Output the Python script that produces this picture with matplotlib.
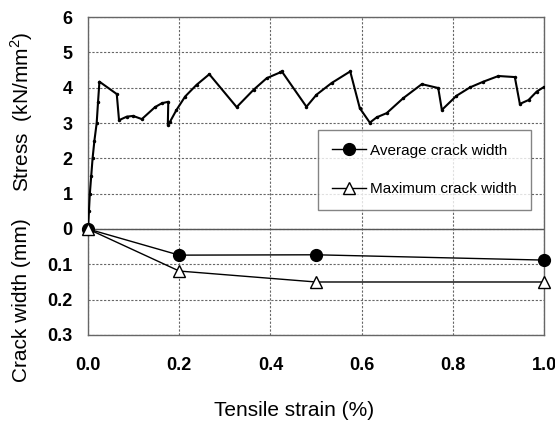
import matplotlib
matplotlib.use("Agg")
import matplotlib.pyplot as plt
import numpy as np

plt.rcParams['font.family'] = ['Liberation Sans', 'DejaVu Sans']
plt.rcParams['mathtext.fontset'] = 'custom'
plt.rcParams['mathtext.rm'] = 'Liberation Sans'

# stress-strain curve (upper part)
strain = [0.0, 0.002, 0.004, 0.007, 0.010, 0.014, 0.019, 0.022, 0.025,
          0.063, 0.068, 0.085, 0.099, 0.118, 0.147, 0.162, 0.176,
          0.175, 0.180, 0.194, 0.213, 0.238, 0.266,
          0.326, 0.363, 0.392, 0.421, 0.425,
          0.479, 0.501, 0.534, 0.575,
          0.596, 0.618, 0.633, 0.655, 0.691, 0.732, 0.768,
          0.776, 0.808, 0.838, 0.867, 0.900, 0.936,
          0.947, 0.966, 0.984, 1.000]
stress = [0.0, 0.5, 1.0, 1.5, 2.0, 2.5, 3.0, 3.6, 4.17,
          3.82, 3.08, 3.18, 3.20, 3.11, 3.45, 3.56, 3.60,
          2.95, 3.04, 3.37, 3.75, 4.08, 4.38,
          3.45, 3.94, 4.27, 4.43, 4.46,
          3.46, 3.80, 4.13, 4.46,
          3.42, 3.01, 3.16, 3.28, 3.70, 4.10, 3.99,
          3.37, 3.77, 4.01, 4.17, 4.33, 4.30,
          3.54, 3.65, 3.89, 4.02]

# crack width (lower part, plotted downward)
crack_strain = [0.0, 0.2, 0.5, 1.0]
avg_width = [0.0, 0.074, 0.073, 0.088]
max_width = [0.0, 0.119, 0.150, 0.150]

yticks = [6, 5, 4, 3, 2, 1, 0, -1, -2, -3]
ytick_labels = ['6', '5', '4', '3', '2', '1', '0', '0.1', '0.2', '0.3']
xticks = [0.0, 0.2, 0.4, 0.6, 0.8, 1.0]

fig = plt.figure(figsize=(5.55, 4.21), dpi=100)
ax = fig.add_axes([0.1586, 0.2043, 0.8216, 0.7553])

ax.plot(strain, stress, color='black', lw=1.5, marker='.', ms=3, zorder=3)
ax.axhline(0, color='#555555', lw=1.0, zorder=2)

scale = 10.0
ax.plot(crack_strain, [-w * scale for w in avg_width], color='black', lw=1.0,
        marker='o', ms=8.5, mfc='black', mec='black', clip_on=False, zorder=4,
        label='Average crack width')
ax.plot(crack_strain, [-w * scale for w in max_width], color='black', lw=1.0,
        marker='^', ms=8.5, mfc='white', mec='black', clip_on=False, zorder=4,
        label='Maximum crack width')

ax.set_xlim(0, 1.0)
ax.set_ylim(-3, 6)
ax.set_xticks(xticks)
ax.set_xticklabels(['%.1f' % v for v in xticks])
ax.set_yticks(yticks)
ax.set_yticklabels(ytick_labels)
ax.tick_params(length=0, labelsize=13)
ax.tick_params(axis='x', pad=16)
ax.tick_params(axis='y', pad=11)
for lbl in ax.get_xticklabels() + ax.get_yticklabels():
    lbl.set_fontweight('bold')

ax.grid(True, color='#666666', lw=0.8, linestyle=(0, (2, 1.5)))
for s in ax.spines.values():
    s.set_color('#666666')
    s.set_linewidth(1.0)

leg = ax.legend(loc='upper left', bbox_to_anchor=(0.505, 0.645), fontsize=11,
                frameon=True, fancybox=False, edgecolor='#666666',
                labelspacing=1.6, handlelength=2.2, borderpad=0.9,
                handletextpad=0.3, borderaxespad=0)
leg.get_frame().set_linewidth(1.0)

fig.text(22 / 555, 1 - 112 / 421, 'Stress  (kN/mm$^2$)', rotation=90,
         ha='center', va='center', fontsize=15)
fig.text(22 / 555, 1 - 300 / 421, 'Crack width (mm)', rotation=90,
         ha='center', va='center', fontsize=15)
fig.text(294 / 555, 1 - 411 / 421, 'Tensile strain (%)', ha='center',
         va='center', fontsize=15)

fig.savefig('out.png', dpi=100)
